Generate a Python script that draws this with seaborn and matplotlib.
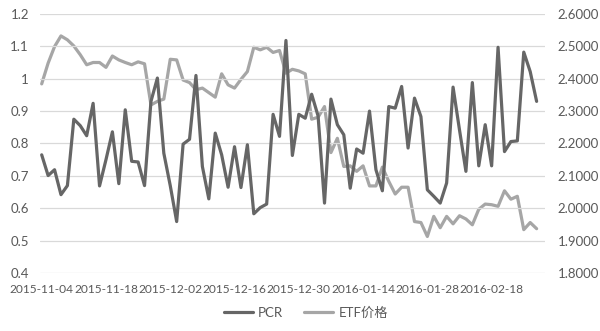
import numpy as np
import pandas as pd
import matplotlib
matplotlib.use("Agg")
import matplotlib.pyplot as plt
import seaborn as sns
from matplotlib.lines import Line2D

# ---- data ----
holidays = ["2016-01-01", "2016-02-08", "2016-02-09", "2016-02-10", "2016-02-11", "2016-02-12"]
dates = [d.strftime("%Y-%m-%d") for d in pd.bdate_range("2015-11-04", "2016-02-29")
         if d.strftime("%Y-%m-%d") not in holidays]

pcr = [0.765, 0.701, 0.719, 0.642, 0.670, 0.875, 0.855, 0.824, 0.924, 0.669,
       0.750, 0.836, 0.676, 0.904, 0.745, 0.743, 0.670, 0.930, 1.002, 0.770,
       0.670, 0.559, 0.798, 0.813, 1.010, 0.729, 0.629, 0.832, 0.765, 0.665,
       0.790, 0.664, 0.796, 0.583, 0.602, 0.613, 0.890, 0.822, 1.118, 0.763,
       0.890, 0.878, 0.952, 0.885, 0.616, 0.937, 0.858, 0.827, 0.662, 0.783,
       0.770, 0.900, 0.719, 0.654, 0.914, 0.909, 0.976, 0.786, 0.940, 0.883,
       0.657, 0.637, 0.616, 0.678, 0.974, 0.842, 0.714, 0.988, 0.731, 0.858,
       0.731, 1.097, 0.775, 0.806, 0.808, 1.082, 1.022, 0.930]

etf = [2.384, 2.448, 2.499, 2.532, 2.520, 2.501, 2.474, 2.443, 2.450, 2.450,
       2.435, 2.470, 2.458, 2.450, 2.443, 2.452, 2.446, 2.319, 2.330, 2.337,
       2.460, 2.458, 2.396, 2.388, 2.366, 2.371, 2.357, 2.343, 2.415, 2.381,
       2.371, 2.398, 2.422, 2.497, 2.489, 2.497, 2.481, 2.487, 2.417, 2.429,
       2.424, 2.415, 2.275, 2.281, 2.314, 2.172, 2.216, 2.129, 2.131, 2.114,
       2.131, 2.069, 2.069, 2.127, 2.083, 2.044, 2.065, 2.065, 1.959, 1.956,
       1.913, 1.975, 1.940, 1.975, 1.952, 1.977, 1.967, 1.949, 1.997, 2.013,
       2.011, 2.006, 2.054, 2.028, 2.037, 1.934, 1.956, 1.937]

left_ticks = [0.4, 0.5, 0.6, 0.7, 0.8, 0.9, 1.0, 1.1, 1.2]
left_labels = ["0.4", "0.5", "0.6", "0.7", "0.8", "0.9", "1", "1.1", "1.2"]
right_ticks = [1.8, 1.9, 2.0, 2.1, 2.2, 2.3, 2.4, 2.5, 2.6]
right_labels = ["1.8000", "1.9000", "2.0000", "2.1000", "2.2000", "2.3000", "2.4000", "2.5000", "2.6000"]
series_names = ["PCR", "ETF价格"]

df = pd.DataFrame({"date": dates, "idx": np.arange(len(dates)), "PCR": pcr, "ETF": etf})

# ---- style ----
sns.set_style("white")
plt.rcParams["font.family"] = ["Lato", "Noto Sans CJK SC", "DejaVu Sans"]

fig = plt.figure(figsize=(6.0, 3.31), dpi=100)
ax = fig.add_axes([0.0667, 0.175, 0.8416, 0.783])
ax2 = ax.twinx()

c_pcr = "#666666"
c_etf = "#a6a6a6"
txt = "#595959"

sns.lineplot(data=df, x="idx", y="ETF", ax=ax2, color=c_etf, linewidth=2.3, legend=False)
sns.lineplot(data=df, x="idx", y="PCR", ax=ax, color=c_pcr, linewidth=2.3, legend=False)
ax.set_zorder(ax2.get_zorder() + 1)
ax.patch.set_visible(False)

ax.set_ylim(0.4, 1.2)
ax2.set_ylim(1.8, 2.6)
ax.set_xlim(-0.26, 78.3)

ax.set_yticks(left_ticks)
ax.set_yticklabels(left_labels)
ax2.set_yticks(right_ticks)
ax2.set_yticklabels(right_labels)
ax.set_xticks(df["idx"][::10])
ax.set_xticklabels(df["date"][::10])

ax.yaxis.grid(True, color="#d9d9d9", linewidth=0.9)
ax.set_axisbelow(True)
ax2.grid(False)
ax.set_xlabel("")
ax.set_ylabel("")
ax2.set_ylabel("")
for a in (ax, ax2):
    for s in a.spines.values():
        s.set_visible(False)
    a.tick_params(axis="both", length=0, labelsize=9.5, labelcolor=txt)
ax.tick_params(axis="y", pad=8)
ax2.tick_params(axis="y", pad=9)
ax.tick_params(axis="x", pad=8, labelsize=8.6)

handles = [Line2D([], [], color=c_pcr, lw=2.3), Line2D([], [], color=c_etf, lw=2.3)]
fig.legend(handles, series_names, loc="center", bbox_to_anchor=(0.51, 0.055), ncol=2,
           frameon=False, fontsize=9.5, labelcolor=txt, handlelength=2.2,
           columnspacing=1.6, handletextpad=0.4)

fig.savefig("out.png", dpi=100, facecolor="white")
